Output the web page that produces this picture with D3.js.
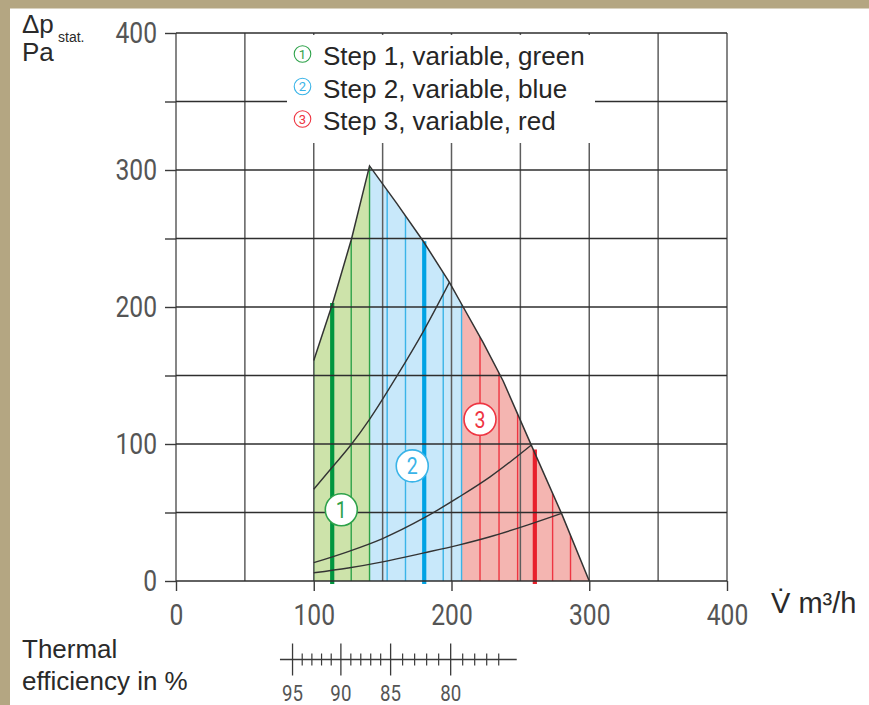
<!DOCTYPE html>
<html>
<head>
<meta charset="utf-8">
<script src="https://cdn.jsdelivr.net/npm/d3@7"></script>
<style>
  html, body { margin: 0; padding: 0; background: #ffffff; }
  svg { display: block; }
</style>
</head>
<body>
<svg id="chart" width="869" height="705"></svg>
<script>
// ---------------- data ----------------
const xTickValues = [0, 100, 200, 300, 400];
const yTickValues = [0, 100, 200, 300, 400];
const gridValues = [0, 50, 100, 150, 200, 250, 300, 350, 400];

// operating envelope (airflow m3/h, static pressure Pa)
const envelopeFlow = [100, 100, 113.5, 127.5, 140.5, 160, 179.5, 198.5, 208.5, 223, 237.5, 258, 280, 300];
const envelopePress = [0, 161, 202, 250, 303, 276, 248, 218, 200, 174, 146, 99, 49, 0];

// step zone limits (airflow)
const zoneStart = [100, 140.5, 207.3];
const zoneEnd = [140.5, 207.3, 300];

// thin hatch lines per zone (airflow)
const hatchStep1 = [100, 113.4, 127.2, 140.5];
const hatchStep2 = [153.3, 166.6, 180.2, 194, 207.3];
const hatchStep3 = [220.7, 234.5, 248, 260.5, 273.4, 286.4];

// highlighted operating lines
const strongFlow = [113.4, 180.2, 260.5];
const strongTop = [203, 248, 96];

// system curves
const curveAFlow = [100, 113.4, 127.5, 140.5, 160, 180, 198.5];
const curveAPress = [67, 83, 100, 118, 149, 183, 218];
const curveBFlow = [100, 125, 150, 180, 205, 228, 258];
const curveBPress = [13.4, 21.5, 31, 46, 61, 76, 99.3];
const curveCFlow = [100, 125, 150, 180, 205, 228, 255, 280];
const curveCPress = [6, 9.5, 14, 20.5, 26.2, 32.3, 40.8, 49.4];

// numbered markers inside zones
const markerNumbers = ["1", "2", "3"];
const markerFlow = [120, 171.5, 220.7];
const markerPress = [52, 84, 118];

// legend
const legendLabels = ["Step 1, variable, green", "Step 2, variable, blue", "Step 3, variable, red"];

// thermal efficiency scale (efficiency % -> airflow m3/h)
const effValues = [95, 90, 85, 80];
const effFlow = [84.6, 119.7, 155.8, 199.4];
const effMinor = [94, 93, 92, 91, 89, 88, 87, 86, 84, 83, 82, 81, 79, 78, 77, 76];
const effLineEnds = [96.3, 74.5];

// ---------------- styles ----------------
const fillColors = ["#cde3aa", "#c8e8fa", "#f4b5b1"];
const lineColors = ["#2ea24a", "#3ab4e8", "#ee3542"];
const strongColors = ["#00963f", "#00a3e4", "#e8202c"];
const numFont = "Roboto, 'DejaVu Sans', sans-serif";
const txtFont = "'Liberation Sans', Arial, sans-serif";
const condense = 0.85;

// ---------------- drawing ----------------
const svg = d3.select("#chart");

const x = d3.scaleLinear().domain([0, 400]).range([176, 727]);
const y = d3.scaleLinear().domain([0, 400]).range([581, 33]);

// background and frame strips
svg.append("rect").attr("x", 0).attr("y", 0).attr("width", 869).attr("height", 705).attr("fill", "#ffffff");
svg.append("rect").attr("x", 0).attr("y", 0).attr("width", 869).attr("height", 8.5).attr("fill", "#b4a682");
svg.append("rect").attr("x", 0).attr("y", 0).attr("width", 10).attr("height", 705).attr("fill", "#b4a682");

const envelope = envelopeFlow.map((f, i) => [f, envelopePress[i]]);
const envLine = d3.line().x(d => x(d[0])).y(d => y(d[1]));

svg.append("defs").append("clipPath").attr("id", "envClip")
  .append("path").attr("d", envLine(envelope) + "Z");

const zoneG = svg.append("g").attr("clip-path", "url(#envClip)");
zoneStart.forEach((s, i) => {
  zoneG.append("rect")
    .attr("x", x(s)).attr("y", y(400))
    .attr("width", x(zoneEnd[i]) - x(s)).attr("height", y(0) - y(400))
    .attr("fill", fillColors[i]);
});
[hatchStep1, hatchStep2, hatchStep3].forEach((arr, i) => {
  zoneG.selectAll(null).data(arr).enter().append("line")
    .attr("x1", d => x(d)).attr("x2", d => x(d))
    .attr("y1", y(0)).attr("y2", y(400))
    .attr("stroke", lineColors[i]).attr("stroke-width", 1.4);
});

// strong operating lines
strongFlow.forEach((f, i) => {
  svg.append("line")
    .attr("x1", x(f)).attr("x2", x(f))
    .attr("y1", y(0) + 3).attr("y2", y(strongTop[i]))
    .attr("stroke", strongColors[i]).attr("stroke-width", 4.2);
});

// grid
const grid = svg.append("g");
grid.selectAll(null).data(gridValues).enter().append("line")
  .attr("x1", d => x(d)).attr("x2", d => x(d))
  .attr("y1", y(400)).attr("y2", y(0))
  .attr("stroke", "#5e5e5e").attr("stroke-width", 1.5);
grid.selectAll(null).data(gridValues).enter().append("line")
  .attr("x1", x(0)).attr("x2", x(400))
  .attr("y1", d => y(d)).attr("y2", d => y(d))
  .attr("stroke", "#2e2e2e").attr("stroke-width", 1.4);

// axes (ticks + labels)
const yAxis = svg.append("g").attr("transform", `translate(${x(0)},0)`)
  .call(d3.axisLeft(y).tickValues(gridValues).tickSize(11).tickPadding(8)
    .tickFormat(d => yTickValues.includes(d) ? String(d) : ""));
const xAxis = svg.append("g").attr("transform", `translate(0,${y(0)})`)
  .call(d3.axisBottom(x).tickValues(xTickValues).tickSize(10));
[xAxis, yAxis].forEach(a => {
  a.select(".domain").remove();
  a.selectAll(".tick line").attr("stroke", "#3a3a3a").attr("stroke-width", 1.4);
  a.selectAll(".tick text")
    .attr("font-family", numFont).attr("font-size", 29).attr("fill", "#555555");
});
xAxis.selectAll(".tick text").attr("y", 44).attr("dy", 0)
  .attr("transform", `scale(${condense},1)`);
yAxis.selectAll(".tick text").attr("x", -19 / condense).attr("dy", "0.33em")
  .attr("transform", `scale(${condense},1)`);

// envelope outline (upper boundary)
svg.append("path")
  .attr("d", envLine(envelope.slice(1)))
  .attr("fill", "none").attr("stroke", "#333").attr("stroke-width", 1.5);

// system curves
const curveGen = d3.line().x(d => x(d[0])).y(d => y(d[1])).curve(d3.curveMonotoneX);
[[curveAFlow, curveAPress], [curveBFlow, curveBPress], [curveCFlow, curveCPress]].forEach(([fs, ps]) => {
  svg.append("path")
    .attr("d", curveGen(fs.map((f, i) => [f, ps[i]])))
    .attr("fill", "none").attr("stroke", "#333").attr("stroke-width", 1.4);
});

// numbered markers
markerNumbers.forEach((n, i) => {
  const g = svg.append("g").attr("transform", `translate(${x(markerFlow[i])},${y(markerPress[i])})`);
  g.append("circle").attr("r", 16).attr("fill", "#fff")
    .attr("stroke", lineColors[i]).attr("stroke-width", 1.6);
  g.append("text").text(n)
    .attr("text-anchor", "middle").attr("dy", "0.36em")
    .attr("transform", `scale(${condense},1)`)
    .attr("font-family", numFont).attr("font-size", 23).attr("fill", lineColors[i]);
});

// legend
svg.append("rect").attr("x", 287).attr("y", 35).attr("width", 308).attr("height", 108).attr("fill", "#fff");
legendLabels.forEach((lab, i) => {
  const base = 65 + i * 32.5;
  svg.append("circle").attr("cx", 302.5).attr("cy", base - 11).attr("r", 8.3)
    .attr("fill", "none").attr("stroke", lineColors[i]).attr("stroke-width", 1.1);
  svg.append("text").text(markerNumbers[i])
    .attr("x", 302.5).attr("y", base - 11).attr("dy", "0.36em")
    .attr("text-anchor", "middle")
    .attr("font-family", numFont).attr("font-size", 13).attr("fill", lineColors[i]);
  svg.append("text").text(lab)
    .attr("x", 323).attr("y", base)
    .attr("font-family", txtFont).attr("font-size", 26).attr("fill", "#262626");
});

// axis titles
const yt = svg.append("text").attr("font-family", txtFont).attr("fill", "#2a2a2a");
yt.append("tspan").attr("x", 22).attr("y", 33).attr("font-size", 26).text("Δp");
yt.append("tspan").attr("x", 58).attr("y", 42).attr("font-size", 14).text("stat.");
svg.append("text").attr("x", 22).attr("y", 61).attr("font-family", txtFont)
  .attr("font-size", 26).attr("fill", "#2a2a2a").text("Pa");

svg.append("text").attr("x", 771).attr("y", 613).attr("font-family", txtFont)
  .attr("font-size", 29).attr("fill", "#2a2a2a").text("V\u0307 m³/h");

svg.append("text").attr("x", 22).attr("y", 658).attr("font-family", txtFont)
  .attr("font-size", 26).attr("fill", "#2a2a2a").text("Thermal");
svg.append("text").attr("x", 22).attr("y", 690).attr("font-family", txtFont)
  .attr("font-size", 26).attr("fill", "#2a2a2a").text("efficiency in %");

// thermal efficiency scale
const eff = d3.scaleLinear().domain(effValues).range(effFlow);
const effY = 659.5;
const effG = svg.append("g");
effG.append("line")
  .attr("x1", x(eff(effLineEnds[0]))).attr("x2", x(eff(effLineEnds[1])))
  .attr("y1", effY).attr("y2", effY)
  .attr("stroke", "#3a3a3a").attr("stroke-width", 1.3);
effG.selectAll(null).data(effValues).enter().append("line")
  .attr("x1", d => x(eff(d))).attr("x2", d => x(eff(d)))
  .attr("y1", effY - 16).attr("y2", effY + 16)
  .attr("stroke", "#3a3a3a").attr("stroke-width", 1.3);
effG.selectAll(null).data(effMinor).enter().append("line")
  .attr("x1", d => x(eff(d))).attr("x2", d => x(eff(d)))
  .attr("y1", effY - 6).attr("y2", effY + 6)
  .attr("stroke", "#3a3a3a").attr("stroke-width", 1.2);
effG.selectAll(null).data(effValues).enter().append("text")
  .text(d => d)
  .attr("x", d => x(eff(d)) / condense).attr("y", 701)
  .attr("transform", `scale(${condense},1)`)
  .attr("text-anchor", "middle")
  .attr("font-family", numFont).attr("font-size", 22).attr("fill", "#555555");
</script>
</body>
</html>
